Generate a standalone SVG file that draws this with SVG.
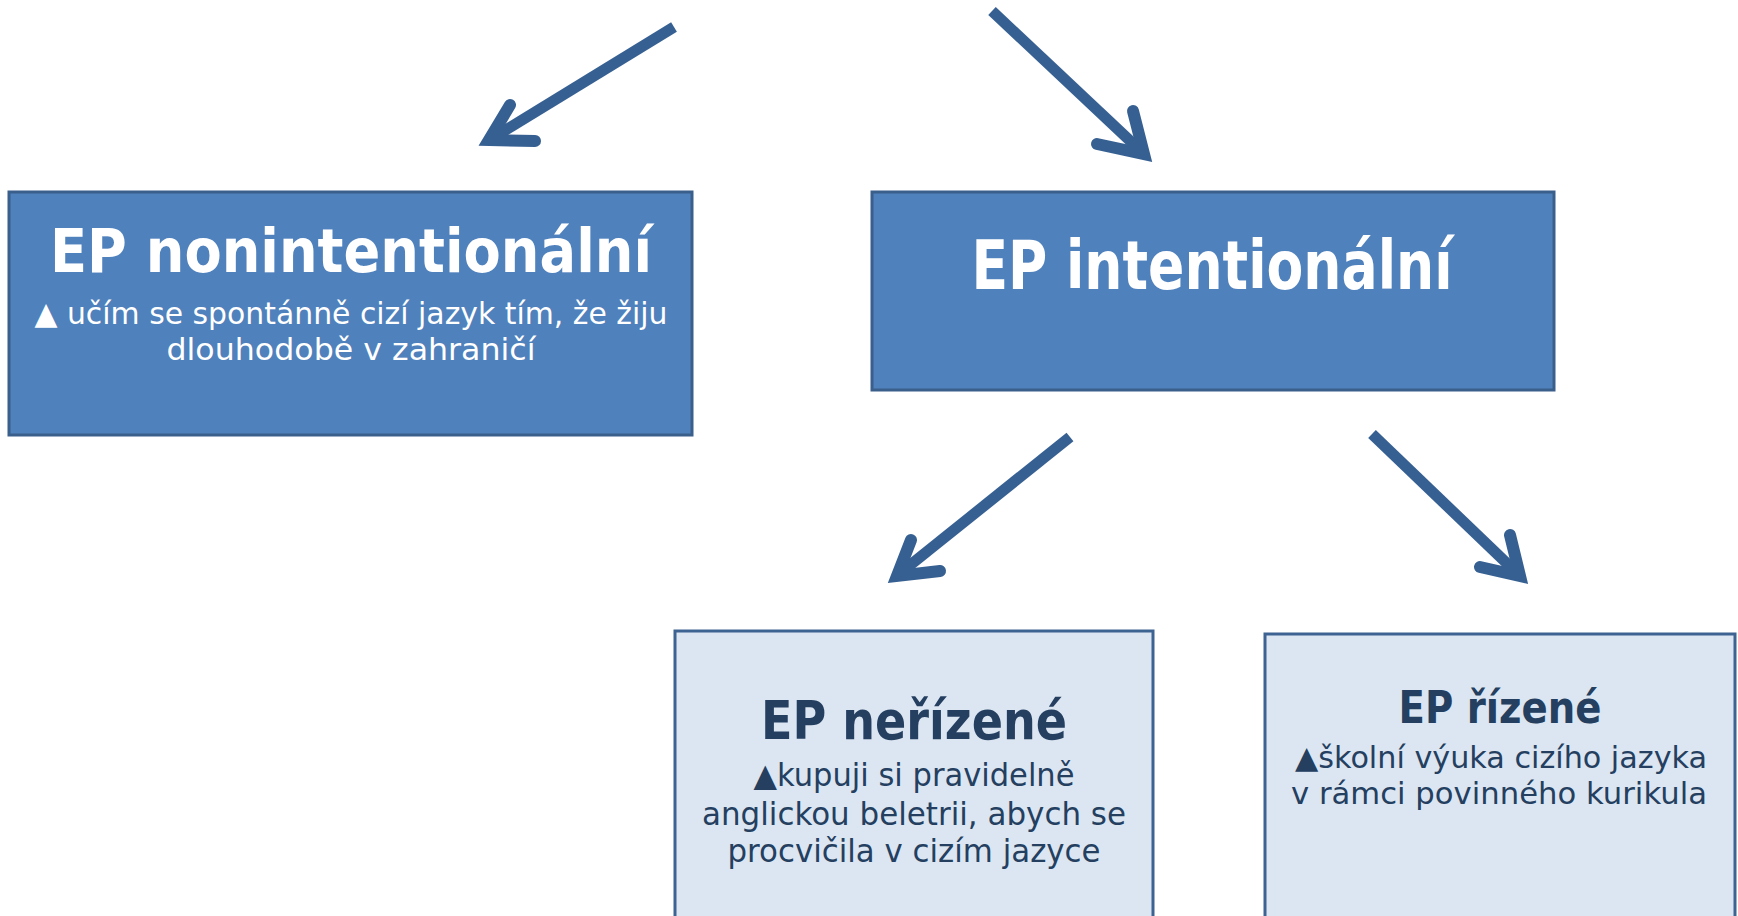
<svg xmlns="http://www.w3.org/2000/svg" width="1738" height="916" viewBox="0 0 1738 916">
<style>
.dark{fill:#4F81BD;stroke:#3A5F8B;stroke-width:3}
.light{fill:#DCE6F2;stroke:#3C6391;stroke-width:3}
.tw{font-family:"DejaVu Sans","Liberation Sans",sans-serif;font-weight:bold;fill:#FFFFFF;text-anchor:middle}
.bw{font-family:"DejaVu Sans","Liberation Sans",sans-serif;fill:#FFFFFF;text-anchor:middle}
.td{font-family:"DejaVu Sans","Liberation Sans",sans-serif;font-weight:bold;fill:#243F60;text-anchor:middle}
.bd{font-family:"DejaVu Sans","Liberation Sans",sans-serif;fill:#243F60;text-anchor:middle}
.shaft{stroke:#376092;stroke-width:11;fill:none;stroke-linecap:butt}
.head{stroke:#376092;stroke-width:12;fill:none;stroke-linecap:round;stroke-linejoin:miter;stroke-miterlimit:6}
</style>
<g id="connectors">
<line class="shaft" x1="674" y1="27" x2="491" y2="139"/>
<polyline class="head" points="510,105 489,140 535,141"/>
<line class="shaft" x1="992" y1="11" x2="1142" y2="152"/>
<polyline class="head" points="1133,111 1144,154 1097,144"/>
<line class="shaft" x1="1070" y1="437" x2="899" y2="574"/>
<polyline class="head" points="911,540 897,576 940,571"/>
<line class="shaft" x1="1372" y1="434" x2="1518" y2="574"/>
<polyline class="head" points="1510,535 1520,576 1480,567"/>
</g>
<g id="node-nonintentional">
<rect class="dark" x="9" y="192" width="683" height="243"/>
<text class="tw" x="351" y="272" font-size="60" textLength="602" lengthAdjust="spacingAndGlyphs">EP nonintentionální</text>
<text class="bw" x="351" y="324" font-size="31" textLength="633" lengthAdjust="spacingAndGlyphs">▲ učím se spontánně cizí jazyk tím, že žiju</text>
<text class="bw" x="351" y="360" font-size="31" textLength="369" lengthAdjust="spacingAndGlyphs">dlouhodobě v zahraničí</text>
</g>
<g id="node-intentional">
<rect class="dark" x="872" y="192" width="682" height="198"/>
<text class="tw" x="1212" y="289" font-size="67" textLength="481" lengthAdjust="spacingAndGlyphs">EP intentionální</text>
</g>
<g id="node-nerizene">
<rect class="light" x="675" y="631" width="478" height="300"/>
<text class="td" x="914" y="739" font-size="54" textLength="306" lengthAdjust="spacingAndGlyphs">EP neřízené</text>
<text class="bd" x="914" y="786" font-size="32" textLength="321" lengthAdjust="spacingAndGlyphs">▲kupuji si pravidelně</text>
<text class="bd" x="914" y="825" font-size="32" textLength="424" lengthAdjust="spacingAndGlyphs">anglickou beletrii, abych se</text>
<text class="bd" x="914" y="862" font-size="32" textLength="373" lengthAdjust="spacingAndGlyphs">procvičila v cizím jazyce</text>
</g>
<g id="node-rizene">
<rect class="light" x="1265" y="634" width="470" height="300"/>
<text class="td" x="1500" y="723" font-size="45" textLength="203" lengthAdjust="spacingAndGlyphs">EP řízené</text>
<text class="bd" x="1501" y="768" font-size="31" textLength="412" lengthAdjust="spacingAndGlyphs">▲školní výuka cizího jazyka</text>
<text class="bd" x="1499" y="804" font-size="31" textLength="416" lengthAdjust="spacingAndGlyphs">v rámci povinného kurikula</text>
</g>
</svg>
